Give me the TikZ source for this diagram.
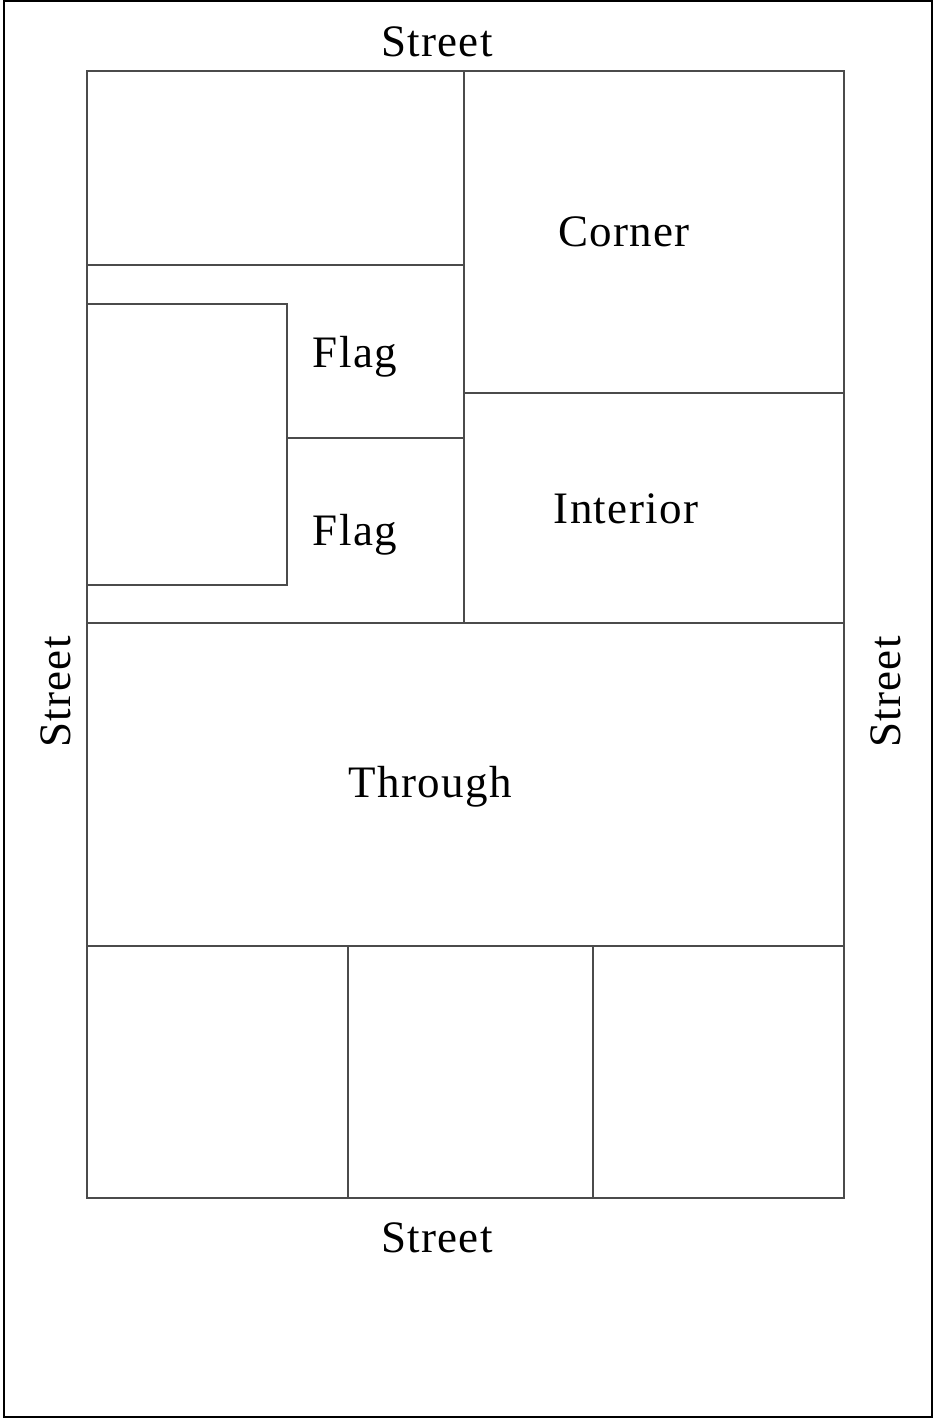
\documentclass[tikz,border=0pt]{standalone}
\usepackage{fontspec}
\setmainfont{Liberation Serif}
\newfontfamily\lotfont[LetterSpace=3]{Liberation Serif}
\usepackage{tikz}
\definecolor{lotline}{RGB}{75,75,75}
\tikzset{
  lot/.style={draw=lotline,line width=1.2pt},
  frame/.style={draw=black,line width=2pt},
  tag/.style={font=\lotfont\fontsize{45}{54}\selectfont,inner sep=0pt,anchor=base}
}

\begin{document}
\begin{tikzpicture}[x=1pt,y=-1pt]
  \useasboundingbox (0,0) rectangle (934,1420);
  \draw[frame] (3.5,1) rectangle (931.5,1417);
  % block outline and lot lines
  \draw[lot] (87,71) rectangle (844,1198);
  \draw[lot] (464,71) -- (464,623);
  \draw[lot] (87,265) -- (464,265);
  \draw[lot] (464,393) -- (844,393);
  \draw[lot] (87,304) rectangle (287,585);
  \draw[lot] (287,438) -- (464,438);
  \draw[lot] (87,623) -- (844,623);
  \draw[lot] (87,946) -- (844,946);
  \draw[lot] (348,946) -- (348,1198);
  \draw[lot] (593,946) -- (593,1198);
  % street names
  \node[tag] (streettop) at (437,57) {Street};
  \node[tag] (streetbot) at (437,1252) {Street};
  \node[tag,rotate=90] (streetleft) at (70,692) {Street};
  \node[tag,rotate=90] (streetright) at (900,692) {Street};
  % lot types
  \node[tag] (corner) at (624,247) {Corner};
  \node[tag] (flagup) at (355,367) {Flag};
  \node[tag] (flaglow) at (355,545) {Flag};
  \node[tag] (interior) at (626,523) {Interior};
  \node[tag] (through) at (430,797) {Through};
\end{tikzpicture}
\end{document}
